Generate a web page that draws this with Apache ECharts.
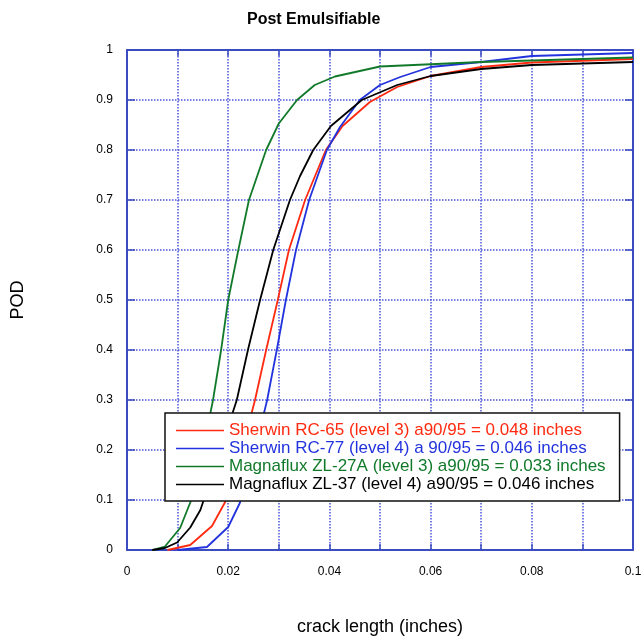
<!DOCTYPE html>
<html>
<head>
<meta charset="utf-8">
<script src="https://cdn.jsdelivr.net/npm/echarts@6/dist/echarts.min.js"></script>
<style>html,body{margin:0;padding:0;background:#fff}#c{width:642px;height:636px}</style>
</head>
<body>
<div id="c"></div>
<script>
var seriesNames = [
  'Sherwin RC-65 (level 3) a90/95 = 0.048 inches',
  'Sherwin RC-77 (level 4) a 90/95 = 0.046 inches',
  'Magnaflux ZL-27A (level 3) a90/95 = 0.033 inches',
  'Magnaflux ZL-37 (level 4) a90/95 = 0.046 inches'
];
var seriesColors = ['#ff2a10', '#2233dd', '#117a2a', '#000000'];

var rc65 = [[0.008,0],[0.0125,0.01],[0.0168,0.048],[0.0194,0.096],[0.0222,0.18],[0.0253,0.3],[0.0275,0.4],[0.0298,0.5],[0.032,0.6],[0.0352,0.7],[0.0393,0.8],[0.0426,0.848],[0.048,0.896],[0.0534,0.926],[0.06,0.948],[0.07,0.966],[0.08,0.975],[0.1,0.982]];
var rc77 = [[0.01,0],[0.0158,0.006],[0.02,0.046],[0.0223,0.094],[0.0248,0.18],[0.0277,0.3],[0.0296,0.4],[0.0314,0.5],[0.0334,0.6],[0.036,0.7],[0.0395,0.8],[0.0421,0.846],[0.046,0.9],[0.05,0.93],[0.054,0.946],[0.06,0.966],[0.07,0.976],[0.08,0.988],[0.1,0.994]];
var zl27a = [[0.005,0],[0.0075,0.007],[0.0105,0.044],[0.0127,0.1],[0.015,0.2],[0.017,0.3],[0.0186,0.4],[0.02,0.5],[0.022,0.6],[0.0241,0.7],[0.0275,0.8],[0.03,0.853],[0.0336,0.9],[0.0371,0.93],[0.0411,0.947],[0.05,0.967],[0.07,0.976],[0.1,0.985]];
var zl37 = [[0.005,0],[0.0075,0.004],[0.0099,0.015],[0.0125,0.045],[0.0145,0.08],[0.0175,0.17],[0.0217,0.3],[0.0239,0.4],[0.0263,0.5],[0.0289,0.6],[0.0322,0.7],[0.0342,0.748],[0.0368,0.8],[0.0403,0.848],[0.0464,0.9],[0.0534,0.93],[0.06,0.948],[0.07,0.962],[0.08,0.97],[0.1,0.976]];
var allData = [rc65, rc77, zl27a, zl37];

var xTickLabels = ['0', '0.02', '0.04', '0.06', '0.08', '0.1'];
var yTickLabels = ['0','0.1','0.2','0.3','0.4','0.5','0.6','0.7','0.8','0.9','1'];

var axisBlue = '#3b4cc0';
var gridBlue = '#4a56d8';
var font = 'Liberation Sans, Arial, sans-serif';

var chart = echarts.init(document.getElementById('c'), null, {renderer: 'canvas'});
chart.setOption({
  animation: false,
  backgroundColor: '#ffffff',
  title: {
    text: 'Post Emulsifiable',
    left: 242, top: 7,
    textStyle: {fontFamily: font, fontSize: 16, fontWeight: 'bold', color: '#000'}
  },
  grid: {left: 127, right: 9, top: 50, bottom: 86, show: false, containLabel: false, outerBoundsMode: 'none'},
  legend: {
    orient: 'vertical',
    left: 165, top: 413,
    padding: [9, 14, 8, 11],
    itemGap: 1,
    itemWidth: 48,
    itemHeight: 1.7,
    icon: 'rect',
    backgroundColor: '#ffffff',
    borderColor: '#111',
    borderWidth: 1.5,
    data: seriesNames.map(function (n, i) {
      return {name: n, icon: 'rect', itemStyle: {color: seriesColors[i]}, textStyle: {color: seriesColors[i]}};
    }),
    textStyle: {fontFamily: font, fontSize: 17}
  },
  xAxis: [{
    type: 'value', min: 0, max: 0.1, interval: 0.01, position: 'bottom',
    name: 'crack length (inches)', nameLocation: 'middle', nameGap: 68,
    nameTextStyle: {fontFamily: font, fontSize: 18, color: '#000'},
    axisLine: {onZero: false, lineStyle: {color: axisBlue, width: 2}},
    axisTick: {inside: true, length: 6, lineStyle: {color: axisBlue, width: 1.5}},
    axisLabel: {
      margin: 16, fontFamily: font, fontSize: 12, color: '#000',
      formatter: function (v) {
        var k = Math.round(v * 100);
        return k % 2 === 0 ? xTickLabels[k / 2] : '';
      }
    },
    splitLine: {show: true, lineStyle: {color: gridBlue, type: 'dotted', width: 1.5}}
  }, {
    type: 'value', min: 0, max: 0.1, interval: 0.01, position: 'top',
    axisLine: {onZero: false, lineStyle: {color: axisBlue, width: 2}},
    axisTick: {inside: true, length: 6, lineStyle: {color: axisBlue, width: 1.5}},
    axisLabel: {show: false}, splitLine: {show: false}
  }],
  yAxis: [{
    type: 'value', min: 0, max: 1, interval: 0.1, position: 'left',
    name: 'POD', nameLocation: 'middle', nameGap: 100, nameRotate: 90,
    nameTextStyle: {fontFamily: font, fontSize: 18, color: '#000'},
    axisLine: {show: true, onZero: false, lineStyle: {color: axisBlue, width: 2}},
    axisTick: {show: true, inside: true, length: 8, lineStyle: {color: axisBlue, width: 1.5}},
    axisLabel: {
      margin: 14, fontFamily: font, fontSize: 12, color: '#000',
      formatter: function (v) { return yTickLabels[Math.round(v * 10)]; }
    },
    splitLine: {show: true, lineStyle: {color: gridBlue, type: 'dotted', width: 1.5}}
  }, {
    type: 'value', min: 0, max: 1, interval: 0.1, position: 'right',
    axisLine: {show: true, onZero: false, lineStyle: {color: axisBlue, width: 2}},
    axisTick: {show: true, inside: true, length: 8, lineStyle: {color: axisBlue, width: 1.5}},
    axisLabel: {show: false}, splitLine: {show: false}
  }],
  series: allData.map(function (d, i) {
    return {
      name: seriesNames[i], type: 'line', data: d, symbol: 'none',
      xAxisIndex: 0, yAxisIndex: 0,
      lineStyle: {color: seriesColors[i], width: 1.8},
      itemStyle: {color: seriesColors[i]},
      z: 3
    };
  })
});
</script>
</body>
</html>
